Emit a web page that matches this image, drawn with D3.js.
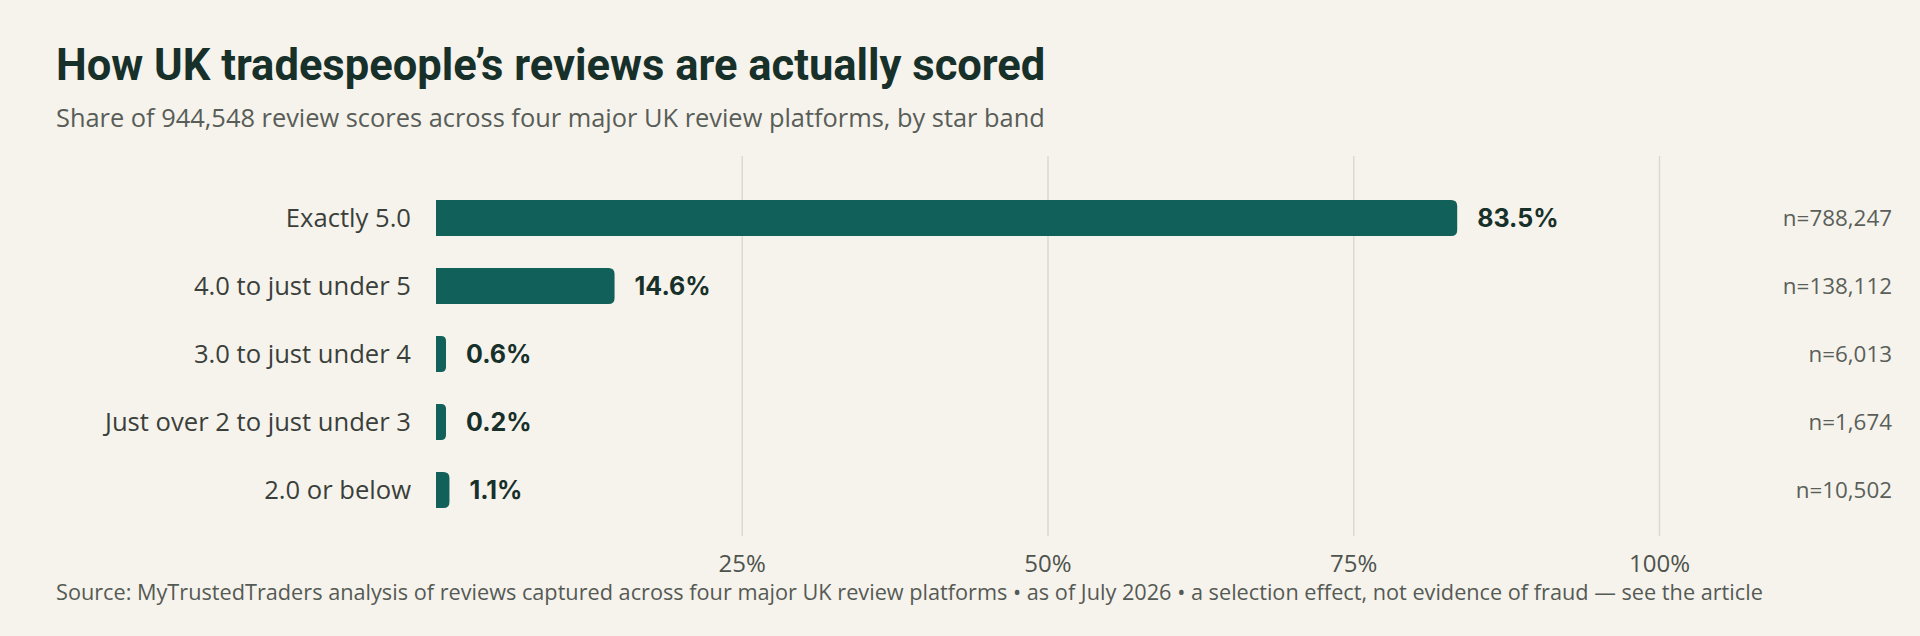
<!DOCTYPE html>
<html>
<head>
<meta charset="utf-8">
<script src="https://cdn.jsdelivr.net/npm/d3@7"></script>
<style>
  html, body { margin: 0; padding: 0; background: #f6f3ec; }
  svg { display: block; }
</style>
</head>
<body>
<div class="chart"></div>
<script>
// chart values
var bands = ["Exactly 5.0", "4.0 to just under 5", "3.0 to just under 4", "Just over 2 to just under 3", "2.0 or below"];
var shares = [83.5, 14.6, 0.6, 0.2, 1.1];
var counts = ["788,247", "138,112", "6,013", "1,674", "10,502"];
var ticks = [25, 50, 75, 100];

var titleText = "How UK tradespeople\u2019s reviews are actually scored";
var subtitleText = "Share of 944,548 review scores across four major UK review platforms, by star band";
var sourceText = "Source: MyTrustedTraders analysis of reviews captured across four major UK review platforms \u2022 as of July 2026 \u2022 a selection effect, not evidence of fraud \u2014 see the article";

var svgWidth = 1920, svgHeight = 636;
var margin = { top: 156, right: 261, bottom: 100, left: 436 };
var bodyFont = "Open Sans";

var svg = d3.select(".chart")
  .append("svg")
  .attr("width", svgWidth)
  .attr("height", svgHeight);

svg.append("rect")
  .attr("width", svgWidth)
  .attr("height", svgHeight)
  .attr("fill", "#f6f3ec");

var data = bands.map(function(b, i) {
  return { band: b, share: shares[i], n: counts[i] };
});

// scales
var x = d3.scaleLinear()
  .domain([0, 100])
  .range([margin.left, svgWidth - margin.right]);

var y = d3.scaleBand()
  .domain(bands)
  .range([184, 524])
  .paddingInner(0.47)
  .paddingOuter(0.235);

// title + subtitle
svg.append("text")
  .attr("x", 56)
  .attr("y", 80)
  .attr("font-family", "Roboto")
  .attr("font-weight", 700)
  .attr("font-size", "43.5px")
  .attr("fill", "#17302a")
  .text(titleText);

svg.append("text")
  .attr("x", 56)
  .attr("y", 127)
  .attr("font-family", bodyFont)
  .attr("font-size", "25.4px")
  .attr("fill", "#585d58")
  .text(subtitleText);

// gridlines + tick labels
var xAxis = d3.axisBottom(x)
  .tickValues(ticks)
  .tickSize(-(536 - 156))
  .tickFormat(function(d) { return d + "%"; });

var gx = svg.append("g")
  .attr("transform", "translate(0,536)")
  .call(xAxis);

gx.select(".domain").remove();
gx.selectAll(".tick line")
  .attr("stroke", "#dcd9d0")
  .attr("stroke-width", 1.5);
gx.selectAll(".tick text")
  .attr("y", 36)
  .attr("dy", 0)
  .attr("font-family", bodyFont)
  .attr("font-size", "24px")
  .attr("fill", "#4e534e");

// bars, square on the left, rounded on the right
var minW = 10, r = 6;
function barPath(d) {
  var x0 = x(0);
  var w = Math.max(x(d.share) - x0, minW);
  var y0 = y(d.band), h = y.bandwidth();
  var rr = Math.min(r, w / 2);
  return "M" + x0 + "," + y0 +
    "H" + (x0 + w - rr) +
    "Q" + (x0 + w) + "," + y0 + " " + (x0 + w) + "," + (y0 + rr) +
    "V" + (y0 + h - rr) +
    "Q" + (x0 + w) + "," + (y0 + h) + " " + (x0 + w - rr) + "," + (y0 + h) +
    "H" + x0 + "Z";
}

svg.append("g")
  .selectAll("path")
  .data(data)
  .enter()
  .append("path")
  .attr("d", barPath)
  .attr("fill", "#11605a");

// value labels
svg.append("g")
  .selectAll("text")
  .data(data)
  .enter()
  .append("text")
  .attr("x", function(d) { return x(0) + Math.max(x(d.share) - x(0), minW) + 20; })
  .attr("y", function(d) { return y(d.band) + y.bandwidth() / 2; })
  .attr("dy", "0.36em")
  .attr("font-family", "Inter")
  .attr("font-weight", 700)
  .attr("font-size", "25px")
  .attr("fill", "#17302a")
  .text(function(d) { return d.share.toFixed(1) + "%"; });

// category labels
svg.append("g")
  .selectAll("text")
  .data(data)
  .enter()
  .append("text")
  .attr("x", 411)
  .attr("y", function(d) { return y(d.band) + y.bandwidth() / 2; })
  .attr("dy", "0.36em")
  .attr("text-anchor", "end")
  .attr("font-family", bodyFont)
  .attr("font-size", "25.6px")
  .attr("fill", "#3a3f3b")
  .text(function(d) { return d.band; });

// n counts on the right
svg.append("g")
  .selectAll("text")
  .data(data)
  .enter()
  .append("text")
  .attr("x", 1892)
  .attr("y", function(d) { return y(d.band) + y.bandwidth() / 2; })
  .attr("dy", "0.36em")
  .attr("text-anchor", "end")
  .attr("font-family", bodyFont)
  .attr("font-size", "22.4px")
  .attr("fill", "#5a5f5a")
  .text(function(d) { return "n=" + d.n; });

// source line
svg.append("text")
  .attr("x", 56)
  .attr("y", 600)
  .attr("font-family", bodyFont)
  .attr("font-size", "21.7px")
  .attr("fill", "#555a55")
  .text(sourceText);
</script>
</body>
</html>
